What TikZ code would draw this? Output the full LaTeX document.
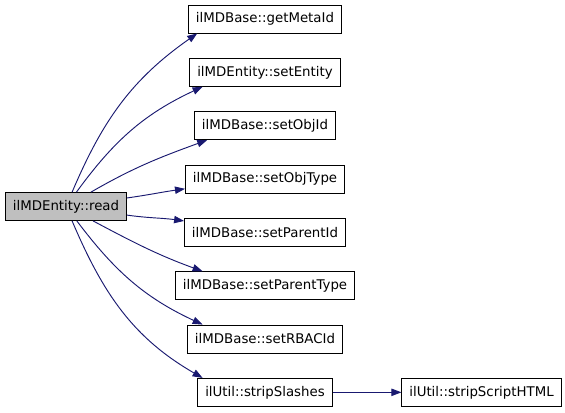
\documentclass[tikz,border=0pt]{standalone}
\usepackage{fontspec}
\setmainfont{DejaVu Sans}
\usetikzlibrary{positioning,arrows.meta}
\definecolor{callblue}{HTML}{191970}
\definecolor{readgray}{HTML}{BFBFBF}

\begin{document}
\begin{tikzpicture}[node distance=40pt, auto,
  fn/.style={rectangle, draw, line width=0.6pt, minimum height=21pt, inner xsep=5.6pt, font=\fontsize{10}{12}\selectfont},
  call/.style={-{Triangle[length=7.5pt,width=5.5pt]}, draw=callblue, line width=0.7pt}]
\useasboundingbox (0,0) rectangle (423.75pt,-309.75pt);
\node (read) [fn, fill=readgray] at (49.5pt,-154.9pt) {ilMDEntity::read};
\node (getMetaId) [fn] at (198.75pt,-14.25pt) {ilMDBase::getMetaId};
\node (setEntity) [fn, below of=getMetaId] {ilMDEntity::setEntity};
\node (setObjId) [fn, below of=setEntity] {ilMDBase::setObjId};
\node (setObjType) [fn, below of=setObjId] {ilMDBase::setObjType};
\node (setParentId) [fn, below of=setObjType] {ilMDBase::setParentId};
\node (setParentType) [fn, below of=setParentId] {ilMDBase::setParentType};
\node (setRBACId) [fn, below of=setParentType] {ilMDBase::setRBACId};
\node (stripSlashes) [fn, below of=setRBACId] {ilUtil::stripSlashes};
\node (stripScriptHTML) [fn, right of=stripSlashes, xshift=122.4pt] {ilUtil::stripScriptHTML};

\draw[call] (read) to[out=67, in=215] (getMetaId.192);
\draw[call] (read) to[out=54, in=205] (setEntity.193);
\draw[call] (read) to[out=30, in=200] (setObjId.194);
\draw[call] (read) to[out=8, in=188] (setObjType.187);
\draw[call] (read) to[out=-8, in=172] (setParentId.172);
\draw[call] (read) to[out=-28, in=160] (setParentType.167);
\draw[call] (read) to[out=-53, in=155] (setRBACId.167);
\draw[call] (read) to[out=-67, in=150] (stripSlashes.167);
\draw[call] (stripSlashes) -- (stripScriptHTML);
\end{tikzpicture}
\end{document}
